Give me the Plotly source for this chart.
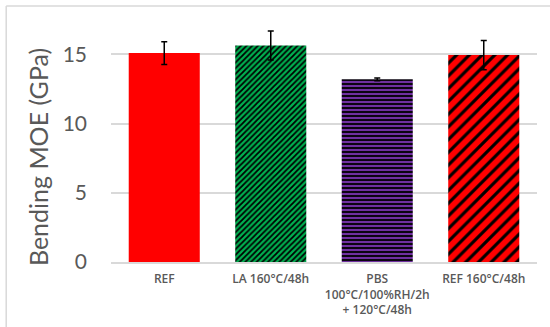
import plotly.graph_objects as go

categories = ["REF", "LA 160°C/48h", "PBS<br>100°C/100%RH/2h<br>+ 120°C/48h", "REF 160°C/48h"]
moe = [15.1, 15.65, 13.2, 14.95]
moe_err = [0.82, 1.05, 0.1, 1.05]
bar_colors = ["#FF0000", "#00B050", "#7030A0", "#FF0000"]
pattern_shapes = ["", "/", "-", "/"]
pattern_sizes = [6, 4, 4, 9]
pattern_solidity = [0.3, 0.45, 0.45, 0.35]

fig = go.Figure()
for i in range(len(categories)):
    pat = dict(shape=pattern_shapes[i], fgcolor="#000000", bgcolor=bar_colors[i],
               size=pattern_sizes[i], solidity=pattern_solidity[i], fillmode="replace")
    fig.add_trace(go.Bar(
        x=[categories[i]],
        y=[moe[i]],
        marker=dict(color=bar_colors[i], line=dict(width=0), pattern=pat),
        error_y=dict(type="data", array=[moe_err[i]], visible=True, color="#000000", thickness=1.5, width=3),
        showlegend=False,
        hoverinfo="skip",
    ))

fig.update_layout(
    width=550, height=327,
    margin=dict(l=111, r=13, t=6, b=65),
    paper_bgcolor="white", plot_bgcolor="white",
    barmode="overlay",
    bargap=0.333,
    font=dict(family="Lato, Open Sans, sans-serif", color="#595959"),
    xaxis=dict(
        automargin=False,
        showline=True, linecolor="#D9D9D9", linewidth=1.5,
        tickfont=dict(size=12, color="#595959", family="Open Sans, sans-serif", weight=600),
        ticks="", ticklabelstandoff=5,
    ),
    yaxis=dict(
        automargin=False,
        range=[0, 18.5],
        tickvals=[0, 5, 10, 15],
        showgrid=True, gridcolor="#D9D9D9", gridwidth=1.5,
        zeroline=False, showline=False,
        tickfont=dict(size=21, color="#595959", family="Lato, sans-serif"),
        ticklabelstandoff=23,
    ),
    annotations=[
        dict(text="Bending MOE (GPa)", xref="paper", yref="paper", x=-0.1725, y=0.408,
             xanchor="center", yanchor="middle", textangle=-90, showarrow=False,
             font=dict(size=25, color="#595959", family="Lato, sans-serif")),
    ],
    shapes=[
        dict(type="line", xref="paper", yref="paper", x0=-0.246, x1=1.1, y0=1.0, y1=1.0,
             line=dict(color="#D9D9D9", width=1.5)),
        dict(type="line", xref="paper", yref="paper", x0=-0.246, x1=-0.246, y0=1.0, y1=-0.3,
             line=dict(color="#D9D9D9", width=1.5)),
    ],
)

fig.write_html("out.html", config={"displayModeBar": False},
               post_script="document.body.style.margin='0';")
